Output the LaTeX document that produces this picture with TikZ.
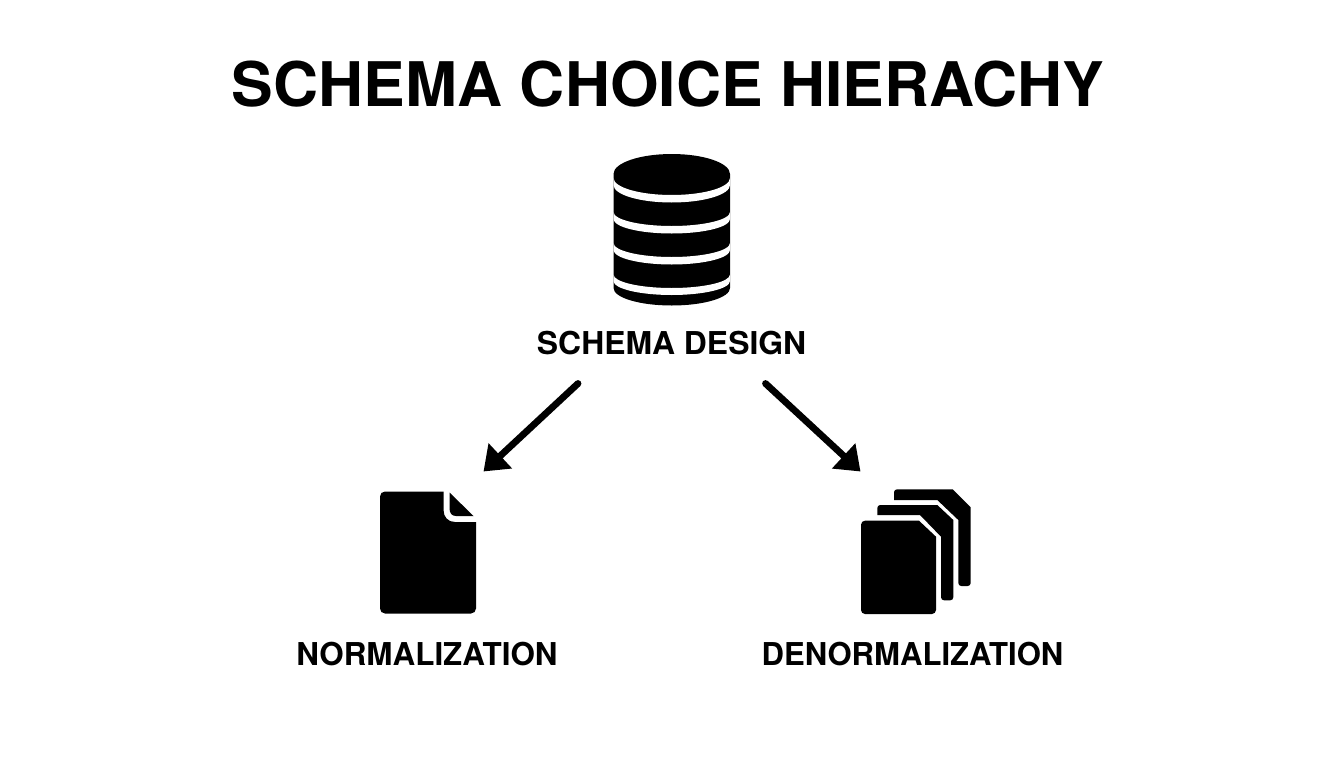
\documentclass[tikz,border=0pt]{standalone}
\usepackage{fontspec}
\setmainfont{TeX Gyre Heros}
\usetikzlibrary{arrows.meta}
\tikzset{
  titletext/.style={font=\fontsize{61.5}{61.5}\selectfont\bfseries,inner sep=0pt,text=black},
  labeltext/.style={inner sep=0pt,text=black},
  iconfill/.style={fill=black,draw=none},
  sheet/.style={fill=black,draw=none},
  band/.style={fill=white,draw=none},
  flow/.style={draw=black,line width=6.8pt,line cap=round,-{Triangle[length=23pt,width=33pt]}}
}
\newcommand{\labelfont}[1]{\fontsize{#1}{#1}\selectfont\bfseries}
\begin{document}
\begin{tikzpicture}[x=1pt,y=-1pt]
\useasboundingbox[fill=white] (0,0) rectangle (1344,768);
\node[titletext,xscale=1.015] (title) at (668,84.5) {SCHEMA CHOICE HIERACHY};
% database cylinder
\begin{scope}
  \clip (613.5,174) arc[start angle=180,end angle=360,x radius=58.25,y radius=20]
        -- (730,288) arc[start angle=0,end angle=180,x radius=58.25,y radius=17.5] -- cycle;
  \fill[black] (600,140) rectangle (745,320);
  \foreach \yy/\zz/\ru/\rl in {178/185/17/17.5,212/219/14/14.5,243/250/14/14.5,274.5/281/13.5/14}
    \fill[band] (613.5,\yy) arc[start angle=180,end angle=0,x radius=58.25,y radius=\ru]
       -- (730,\zz) arc[start angle=0,end angle=180,x radius=58.25,y radius=\rl] -- cycle;
\end{scope}
\node[labeltext,font=\labelfont{31.5},xscale=1.012] (design) at (671.5,343.5) {SCHEMA DESIGN};
% single document
\fill[sheet] [rounded corners=5pt] (380,491.5) [sharp corners] -- (443.5,491.5)
   -- (443.5,510) .. controls (443.5,517) and (448,522) .. (455,522)
   -- (476,522) [rounded corners=5pt] -- (476,613.5) -- (380,613.5) -- cycle;
\fill[iconfill] (449.5,492.5) -- (449.5,508) .. controls (449.5,513) and (451.5,516) .. (456,516)
   -- (473.5,516) -- cycle;
\node[labeltext,font=\labelfont{31.5},xscale=0.997] (norm) at (427,654) {NORMALIZATION};
% document stack
\fill[sheet] [rounded corners=3pt] (894,500) -- (894,489.3) [sharp corners] -- (952.7,489.3)
   -- (970.7,507.3) [rounded corners=3pt] -- (970.7,586) -- (958.3,586)
   [sharp corners] -- (958.3,520) -- (937.3,500) -- cycle;
\fill[sheet] [rounded corners=3pt] (877.3,515) -- (877.3,505) [sharp corners] -- (937.3,505)
   -- (953.3,520) [rounded corners=3pt] -- (953.3,600.3) -- (941,600.3)
   [sharp corners] -- (941,536.7) -- (920,515) -- cycle;
\fill[sheet] [rounded corners=4pt] (861,570) -- (861,520.7) [sharp corners] -- (919,520.7)
   -- (936,536.7) [rounded corners=4pt] -- (936,614) -- (861,614) -- cycle;
\node[labeltext,font=\labelfont{31.5},xscale=0.987] (denorm) at (912.5,654) {DENORMALIZATION};
% connectors
\coordinate (designL) at (578,383.5);
\coordinate (designR) at (765.5,383.5);
\coordinate (normTop) at (483.5,471.5);
\coordinate (denormTop) at (860.5,471.5);
\draw[flow] (designL) -- (normTop);
\draw[flow] (designR) -- (denormTop);
\end{tikzpicture}
\end{document}
